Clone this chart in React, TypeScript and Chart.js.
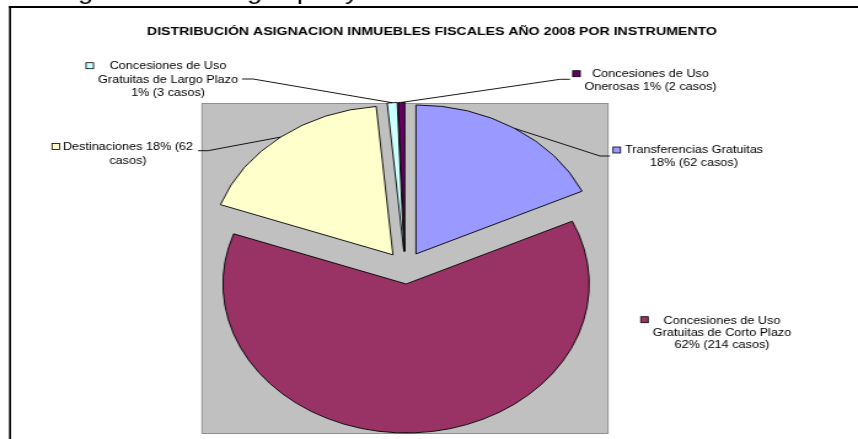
import { useEffect, useRef } from 'react';
import { Chart, registerables } from 'chart.js';

Chart.register(...registerables);

// ---------- data ----------
const title = 'DISTRIBUCIÓN ASIGNACION INMUEBLES FISCALES AÑO 2008 POR INSTRUMENTO';
const categories = [
  'Transferencias Gratuitas',
  'Concesiones de Uso Gratuitas de Corto Plazo',
  'Destinaciones',
  'Concesiones de Uso Gratuitas de Largo Plazo',
  'Concesiones de Uso Onerosas',
];
const casos = [62, 214, 62, 3, 2];
const sliceColors = ['#9999FF', '#993366', '#FFFFCC', '#CCFFFF', '#660066'];
const labelLines = [
  ['Transferencias Gratuitas', '18% (62 casos)'],
  ['Concesiones de Uso', 'Gratuitas de Corto Plazo', '62% (214 casos)'],
  ['Destinaciones 18% (62', 'casos)'],
  ['Concesiones de Uso', 'Gratuitas de Largo Plazo', '1% (3 casos)'],
  ['Concesiones de Uso', 'Onerosas 1% (2 casos)'],
];
const cutText = ['g', 'g', 'p', 'y'];

// ---------- layout (screen px; canvas is stretched horizontally by K) ----------
const W = 698;
const H = 439;
const K = 858 / W;
const bx = (sx: number) => sx / K;

const PIE_CX = 405.2;
const PIE_CY = 267.7;
const PIE_R = 149;
const EXPLODE = 16.3;

const labelLayout = [
  { cx: 694, ys: [149.3, 162.7], marker: [613, 147], leader: [[610, 156], [600, 156]] },
  { cx: 722, ys: [320, 332.2, 344.4], marker: [640.7, 316.7], leader: null },
  { cx: 128, ys: [146.7, 160], marker: [52, 143.5], leader: [[198, 150.7], [208, 150.7]] },
  { cx: 168, ys: [65.7, 79, 92.2], marker: [86, 62.7], leader: [[242, 79], [253, 79]] },
  { cx: 650.5, ys: [73.3, 86], marker: [572.7, 70.7], leader: [[570, 79.3], [560, 79.3]] },
];
const cutTextX = [78, 247, 297, 345];

const FONT = 'Arial, "Liberation Sans", sans-serif';

const decorPlugin = {
  id: 'decor',
  beforeDraw(chart: any) {
    const ctx: CanvasRenderingContext2D = chart.ctx;
    ctx.save();
    ctx.fillStyle = '#ffffff';
    ctx.fillRect(0, 0, chart.width, chart.height);

    // clipped text line above the frame
    ctx.fillStyle = '#000';
    ctx.font = `22px ${FONT}`;
    ctx.textBaseline = 'alphabetic';
    ctx.textAlign = 'left';
    cutText.forEach((t, i) => ctx.fillText(t, bx(cutTextX[i]), -1.2));

    // frame
    ctx.fillRect(bx(9), 6, chart.width, 2);
    ctx.fillRect(bx(9), 6, bx(2), chart.height);

    // plot area
    ctx.fillStyle = '#C0C0C0';
    ctx.fillRect(bx(202), 103, bx(608) - bx(202), 330);
    ctx.strokeStyle = '#8f8f8f';
    ctx.lineWidth = 1;
    ctx.strokeRect(bx(202), 103.5, bx(608) - bx(202), 330);

    // title
    ctx.fillStyle = '#000';
    ctx.font = `bold 11.5px ${FONT}`;
    ctx.textAlign = 'center';
    ctx.fillText(title, bx(432), 35);
    ctx.restore();
  },
  beforeDatasetsDraw(chart: any) {
    const meta = chart.getDatasetMeta(0);
    meta.data.forEach((el: any) => {
      if (el.__exploded) return;
      const orig = el.draw;
      el.draw = function (ctx: CanvasRenderingContext2D, area: any) {
        const mid = (this.startAngle + this.endAngle) / 2;
        ctx.save();
        ctx.translate(Math.cos(mid) * EXPLODE, Math.sin(mid) * EXPLODE);
        orig.call(this, ctx, area);
        ctx.restore();
      };
      el.__exploded = true;
    });
  },
  afterDatasetsDraw(chart: any) {
    const ctx: CanvasRenderingContext2D = chart.ctx;
    const meta = chart.getDatasetMeta(0);
    ctx.save();
    labelLayout.forEach((lay, i) => {
      const el: any = meta.data[i];
      // leader line
      if (lay.leader) {
        const mid = (el.startAngle + el.endAngle) / 2;
        const rr = el.outerRadius + EXPLODE;
        const px = el.x + Math.cos(mid) * rr;
        const py = el.y + Math.sin(mid) * rr;
        ctx.beginPath();
        ctx.strokeStyle = '#000';
        ctx.lineWidth = 0.9;
        ctx.moveTo(bx(lay.leader[0][0]), lay.leader[0][1]);
        ctx.lineTo(bx(lay.leader[1][0]), lay.leader[1][1]);
        ctx.lineTo(px, py);
        ctx.stroke();
      }
      // legend key
      ctx.fillStyle = sliceColors[i];
      ctx.fillRect(bx(lay.marker[0]), lay.marker[1], bx(7.5), 6);
      ctx.strokeStyle = '#000';
      ctx.lineWidth = 0.8;
      ctx.strokeRect(bx(lay.marker[0]), lay.marker[1], bx(7.5), 6);
      // text
      ctx.fillStyle = '#000';
      ctx.font = `10.3px ${FONT}`;
      ctx.textAlign = 'center';
      ctx.textBaseline = 'alphabetic';
      labelLines[i].forEach((line, j) => {
        ctx.fillText(line, bx(lay.cx), lay.ys[j] + 3.7);
      });
    });
    ctx.restore();
  },
};

export default function App() {
  const ref = useRef<HTMLCanvasElement | null>(null);
  useEffect(() => {
    if (!ref.current) return;
    const cx = bx(PIE_CX);
    const half = 170;
    const chart = new Chart(ref.current, {
      type: 'pie',
      data: {
        labels: categories,
        datasets: [
          {
            data: casos,
            backgroundColor: sliceColors,
            borderColor: '#000000',
            borderWidth: 0.9,
          },
        ],
      },
      options: {
        animation: false,
        responsive: false,
        devicePixelRatio: 1,
        events: [],
        radius: PIE_R,
        layout: {
          padding: {
            left: cx - half,
            right: W - (cx + half),
            top: PIE_CY - half,
            bottom: H - (PIE_CY + half),
          },
        },
        plugins: {
          legend: { display: false },
          tooltip: { enabled: false },
          title: { display: false },
        },
      } as any,
      plugins: [decorPlugin as any],
    });
    return () => chart.destroy();
  }, []);

  return (
    <div
      style={{
        position: 'fixed',
        left: 0,
        top: 0,
        width: 858,
        height: 439,
        overflow: 'hidden',
        background: '#fff',
      }}
    >
      <canvas
        ref={ref}
        width={W}
        height={H}
        style={{
          position: 'absolute',
          left: 0,
          top: 0,
          transform: `scaleX(${K})`,
          transformOrigin: '0 0',
        }}
      />
    </div>
  );
}
